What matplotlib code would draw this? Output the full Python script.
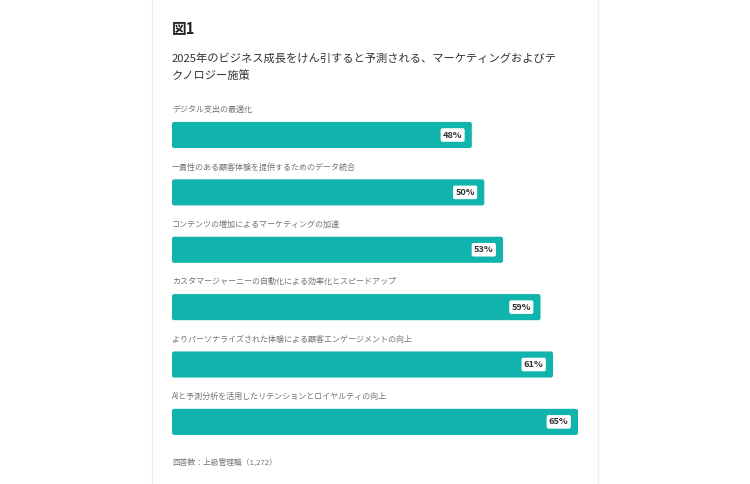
import matplotlib.pyplot as plt
from matplotlib.patches import FancyBboxPatch

plt.rcParams['font.family'] = ['Noto Sans CJK JP', 'DejaVu Sans']

labels = [
    'デジタル支出の最適化',
    '一貫性のある顧客体験を提供するためのデータ統合',
    'コンテンツの増加によるマーケティングの加速',
    'カスタマージャーニーの自動化による効率化とスピードアップ',
    'よりパーソナライズされた体験による顧客エンゲージメントの向上',
    'AIと予測分析を活用したリテンションとロイヤルティの向上',
]
values = [48, 50, 53, 59, 61, 65]

title = '図1'
subtitle = '2025年のビジネス成長をけん引すると予測される、マーケティングおよびテ\nクノロジー施策'
footer = '回答数：上級管理職（1,272）'

W, H = 750, 484
BAR = '#10b4ad'


def px(x, y):
    return x / W, 1 - y / H


fig = plt.figure(figsize=(7.5, 4.84), dpi=100)
fig.patch.set_facecolor('white')

# card edges
for x in (152, 598):
    fig.add_artist(plt.Line2D([x / W, x / W], [0, 1], color='#ececec', lw=1))

# axes: left 172 -> right 578 px, top 100 -> bottom 450 px
ax = fig.add_axes([172 / W, 1 - 450 / H, (578 - 172) / W, 350 / H])
ypos = list(range(len(values)))
bars = ax.barh(ypos, values, height=0.455, color=BAR, edgecolor='none')
ax.set_xlim(0, max(values))
ax.set_ylim(5.49, -0.61)
ax.axis('off')

# swap plain rectangles for slightly rounded ones
xpx = 406 / max(values)
ypx = 350 / 6.1
for b in bars:
    b.set_visible(False)
    ax.add_patch(FancyBboxPatch((b.get_x(), b.get_y()), b.get_width(), b.get_height(),
                                boxstyle='round,pad=0,rounding_size=0.35',
                                mutation_aspect=xpx / ypx, fc=BAR, ec='none'))

for y, lab, v in zip(ypos, labels, values):
    ax.text(0, y - 0.44, lab, fontsize=5.8, color='#737373', ha='left', va='center')
    ax.annotate(f'{v}%', xy=(v, y), xytext=(-6.8, 0), textcoords='offset points',
                ha='right', va='center', fontsize=6.6, fontweight='bold', color='#333333',
                bbox=dict(boxstyle='round,pad=0.25,rounding_size=0.2', fc='white', ec='none'))

fig.text(*px(172, 29), title, fontsize=10.5, fontweight='bold', color='#222222',
         ha='left', va='center')
fig.text(*px(172, 67), subtitle, fontsize=8.1, color='#333333', ha='left', va='center',
         linespacing=1.75)
fig.text(*px(172, 462), footer, fontsize=5.6, color='#737373', ha='left', va='center')

fig.savefig('out.png', dpi=100)
